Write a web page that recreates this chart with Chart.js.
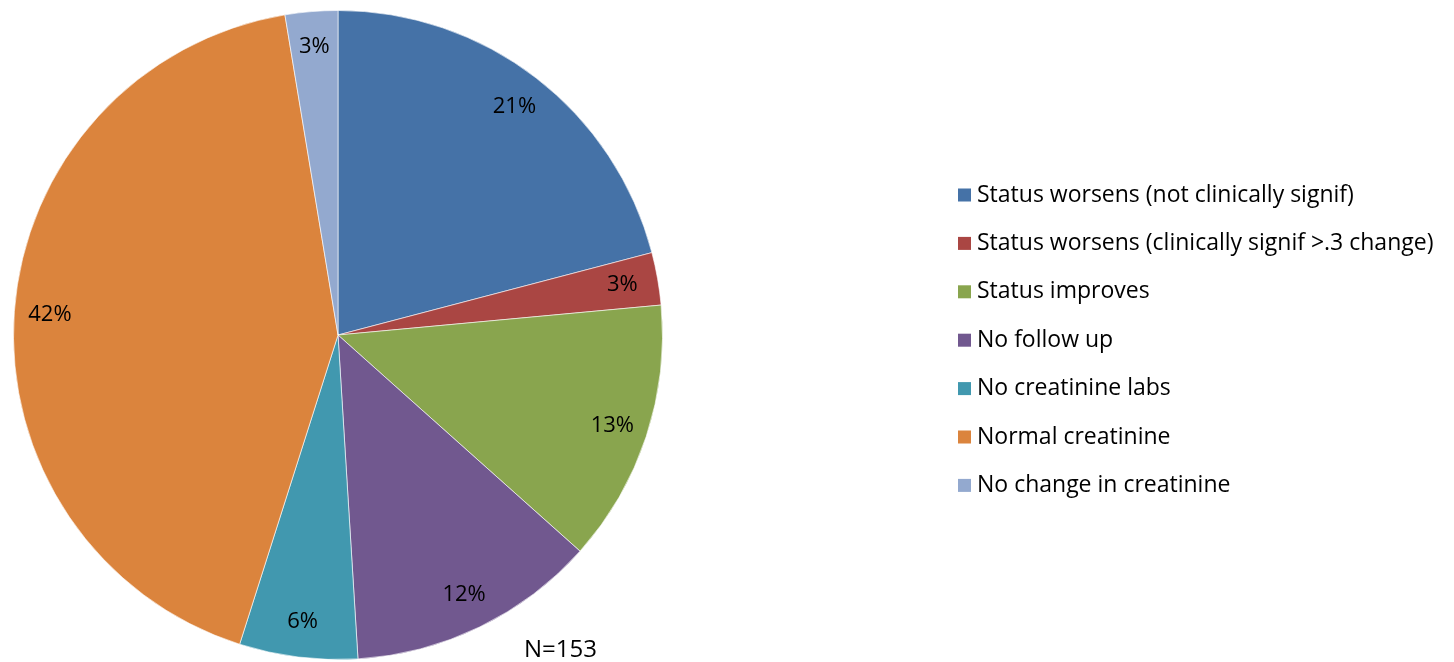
<!DOCTYPE html>
<html>
<head>
<meta charset="utf-8">
<script src="https://cdn.jsdelivr.net/npm/chart.js@4"></script>
<style>
  html, body { margin: 0; padding: 0; background: #fff; }
  #wrap { width: 1454px; height: 662px; position: relative; }
</style>
</head>
<body>
<div id="wrap"><canvas id="pieChart" width="1454" height="662"></canvas></div>
<script>
// dados do gráfico (N=153)
const categorias = [
  'Status worsens (not clinically signif)',
  'Status worsens (clinically signif >.3 change)',
  'Status improves',
  'No follow up',
  'No creatinine labs',
  'Normal creatinine',
  'No change in creatinine'
];
const contagens = [32, 4, 20, 19, 9, 65, 4];
const rotulos = ['21%', '3%', '13%', '12%', '6%', '42%', '3%'];
const cores = ['#4572A7', '#AA4643', '#89A54E', '#71588F', '#4198AF', '#DB843D', '#93A9CF'];
const nota = 'N=153';

const FONTE = '"Open Sans", "Liberation Sans", sans-serif';

// rótulos de porcentagem dentro das fatias
const rotulosPlugin = {
  id: 'rotulos',
  afterDatasetsDraw(chart) {
    const ctx = chart.ctx;
    const meta = chart.getDatasetMeta(0);
    ctx.save();
    ctx.font = '22px ' + FONTE;
    ctx.fillStyle = '#000';
    ctx.textAlign = 'center';
    ctx.textBaseline = 'middle';
    meta.data.forEach((arc, i) => {
      const mid = (arc.startAngle + arc.endAngle) / 2;
      const r = arc.outerRadius * 0.89;
      ctx.fillText(rotulos[i], arc.x + Math.cos(mid) * r, arc.y + Math.sin(mid) * r);
    });
    ctx.restore();
  }
};

// legenda à direita + nota N
const legendaPlugin = {
  id: 'legenda',
  afterDraw(chart) {
    const ctx = chart.ctx;
    ctx.save();
    ctx.font = '23px ' + FONTE;
    ctx.textBaseline = 'middle';
    categorias.forEach((c, i) => {
      const y = 195 + i * 48.4;
      ctx.fillStyle = cores[i];
      ctx.fillRect(958, y - 6.5, 13, 13);
      ctx.fillStyle = '#000';
      ctx.fillText(c, 977, y);
    });
    ctx.font = '24px ' + FONTE;
    ctx.fillText(nota, 524, 650);
    ctx.restore();
  }
};

new Chart(document.getElementById('pieChart').getContext('2d'), {
  type: 'pie',
  data: {
    labels: categorias,
    datasets: [{
      data: contagens,
      backgroundColor: cores,
      borderColor: 'rgba(255,255,255,0.6)',
      borderWidth: 1
    }]
  },
  options: {
    responsive: false,
    animation: false,
    layout: { padding: { left: 13, top: 10, right: 791, bottom: 2 } },
    plugins: {
      legend: { display: false },
      tooltip: { enabled: false }
    }
  },
  plugins: [rotulosPlugin, legendaPlugin]
});
</script>
</body>
</html>
